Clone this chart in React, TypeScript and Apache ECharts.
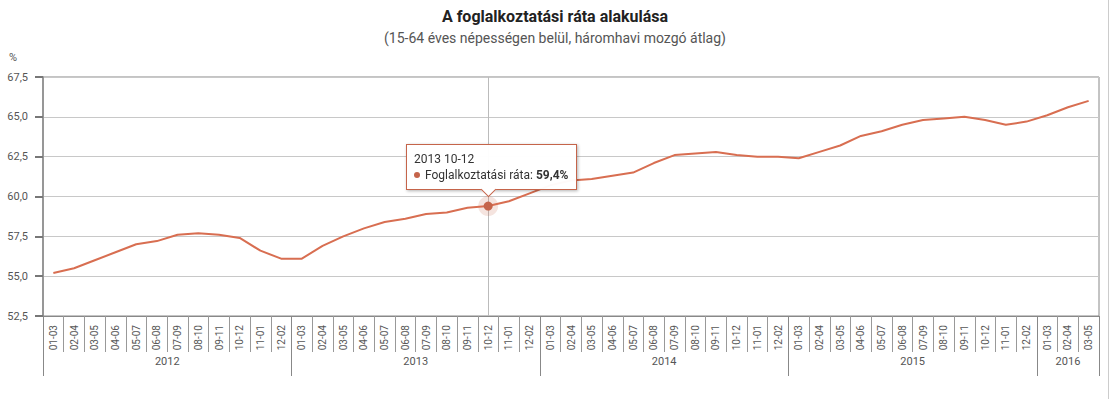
import React, { useEffect, useRef } from "react";
import * as echarts from "echarts";

const years = ["2012", "2013", "2014", "2015", "2016"];
const monthsPerYear = [12, 12, 12, 12, 3];
const monthLabels = ["01-03", "02-04", "03-05", "04-06", "05-07", "06-08", "07-09", "08-10", "09-11", "10-12", "11-01", "12-02"];
const rateValues = [
  55.2, 55.5, 56.0, 56.5, 57.0, 57.2, 57.6, 57.7, 57.6, 57.4, 56.6, 56.1,
  56.1, 56.9, 57.5, 58.0, 58.4, 58.6, 58.9, 59.0, 59.3, 59.4, 59.7, 60.2,
  60.7, 61.0, 61.1, 61.3, 61.5, 62.1, 62.6, 62.7, 62.8, 62.6, 62.5, 62.5,
  62.4, 62.8, 63.2, 63.8, 64.1, 64.5, 64.8, 64.9, 65.0, 64.8, 64.5, 64.7,
  65.1, 65.6, 66.0,
];
const seriesName = "Foglalkoztatási ráta";
const highlightIndex = 21;
const yMin = 52.5;
const yMax = 67.5;
const yStep = 2.5;

const LINE_COLOR = "#c5644a";

export default function App() {
  const ref = useRef<HTMLDivElement>(null);
  useEffect(() => {
    if (!ref.current) return;
    const chart = echarts.init(ref.current, undefined, { renderer: "svg" });

    const categories: string[] = [];
    const yearOfIndex: string[] = [];
    years.forEach((y, yi) => {
      for (let m = 0; m < monthsPerYear[yi]; m++) {
        categories.push(monthLabels[m]);
        yearOfIndex.push(y);
      }
    });
    const n = categories.length;
    const yearAxisData: string[] = new Array(2 * n + 1).fill("");
    const boundaries = new Set<number>();
    let start = 0;
    years.forEach((y, yi) => {
      const cnt = monthsPerYear[yi];
      boundaries.add(2 * start);
      yearAxisData[2 * start + cnt] = y;
      start += cnt;
    });
    boundaries.add(2 * n);

    const font = "Roboto, 'Noto Sans', sans-serif";

    chart.setOption({
      animation: false,
      textStyle: { fontFamily: font },
      title: {
        text: "A foglalkoztatási ráta alakulása",
        subtext: "(15-64 éves népességen belül, háromhavi mozgó átlag)",
        left: "center",
        top: 3,
        itemGap: 7,
        textStyle: { fontSize: 16, fontWeight: "bold", color: "#222", fontFamily: font },
        subtextStyle: { fontSize: 14, color: "#555", fontFamily: font },
      },
      grid: {
        left: 43,
        right: 11,
        top: 77,
        bottom: 83,
        show: true,
        borderColor: "#888",
        borderWidth: 1,
      },
      tooltip: {
        trigger: "axis",
        alwaysShowContent: true,
        transitionDuration: 0,
        showDelay: 0,
        backgroundColor: "rgba(255,255,255,0.97)",
        borderColor: LINE_COLOR,
        borderWidth: 1,
        padding: [6, 8, 6, 7],
        extraCssText: "border-radius:0;box-shadow:1px 1px 3px rgba(0,0,0,0.3);overflow:visible;",
        textStyle: { fontSize: 12, color: "#333", fontFamily: font, lineHeight: 16 },
        axisPointer: {
          type: "line",
          z: 1,
          lineStyle: { color: "#bbb", width: 1, type: "solid" },
          label: { show: false },
        },
        position: (point: number[], _p: any, _d: any, _r: any, size: any) => [
          point[0] - size.contentSize[0] / 2 + 3,
          point[1] - size.contentSize[1] - 16,
        ],
        formatter: (params: any) => {
          const list = Array.isArray(params) ? params : [params];
          const p = list.find((q: any) => q.seriesIndex === 0) || list[0];
          const idx = p.dataIndex;
          const v = Number(rateValues[idx]).toFixed(1).replace(".", ",");
          return (
            `<div style="position:relative;line-height:16px">` +
            `<div>${yearOfIndex[idx]} ${categories[idx]}</div>` +
            `<div><span style="display:inline-block;width:6px;height:6px;border-radius:50%;background:${LINE_COLOR};margin-right:5px;vertical-align:middle;position:relative;top:-1px"></span>` +
            `${seriesName}: <b>${v}%</b></div>` +
            `</div>` +
            `<div style="position:absolute;left:50%;bottom:-6px;margin-left:-9px;width:10px;height:10px;background:#fff;border-right:1px solid ${LINE_COLOR};border-bottom:1px solid ${LINE_COLOR};transform:rotate(45deg)"></div>`
          );
        },
      },
      graphic: [
        {
          type: "text",
          left: 9,
          top: 52,
          style: { text: "%", fontSize: 11, fill: "#555", fontFamily: font },
        },
        {
          type: "line",
          shape: { x1: 1108.5, y1: 0, x2: 1108.5, y2: 399 },
          style: { stroke: "#ccc", lineWidth: 1 },
        },
      ],
      xAxis: [
        {
          type: "category",
          data: categories,
          boundaryGap: true,
          axisLine: { show: true, lineStyle: { color: "#888", width: 1 } },
          axisTick: { show: true, interval: 0, length: 36, lineStyle: { color: "#999" } },
          axisLabel: { interval: 0, rotate: 90, fontSize: 10, color: "#555", margin: 9, fontFamily: font },
          splitLine: { show: false },
        },
        {
          type: "category",
          data: yearAxisData,
          position: "bottom",
          boundaryGap: false,
          axisLine: { show: false },
          axisTick: {
            show: true,
            length: 60,
            interval: (i: number) => boundaries.has(i),
            lineStyle: { color: "#888" },
          },
          axisLabel: { interval: 0, fontSize: 11, color: "#555", margin: 40, fontFamily: font },
          splitLine: { show: false },
          axisPointer: { show: false },
        },
      ],
      yAxis: {
        type: "value",
        min: yMin,
        max: yMax,
        interval: yStep,
        axisLine: { show: true, lineStyle: { color: "#888", width: 1.5 } },
        axisTick: { show: true, length: 8, lineStyle: { color: "#777", width: 2 } },
        axisLabel: {
          fontSize: 11,
          color: "#555",
          margin: 15,
          fontFamily: font,
          formatter: (v: number) => v.toFixed(1).replace(".", ","),
        },
        splitLine: { show: true, lineStyle: { color: "#c8c8c8", width: 1 } },
      },
      series: [
        {
          name: seriesName,
          type: "line",
          data: rateValues,
          xAxisIndex: 0,
          showSymbol: false,
          symbol: "circle",
          symbolSize: 9,
          z: 3,
          lineStyle: { color: LINE_COLOR, width: 2 },
          itemStyle: { color: LINE_COLOR },
          emphasis: {
            scale: 1,
            itemStyle: { color: LINE_COLOR, borderWidth: 0 },
          },
        },
        {
          name: "halo",
          type: "scatter",
          xAxisIndex: 0,
          data: [[highlightIndex, rateValues[highlightIndex]]],
          symbol: "circle",
          symbolSize: 20,
          z: 2,
          silent: true,
          tooltip: { show: false },
          itemStyle: { color: "rgba(197,100,74,0.22)" },
          emphasis: { disabled: true },
        },
      ],
    });

    chart.dispatchAction({ type: "showTip", seriesIndex: 0, dataIndex: highlightIndex });

    return () => chart.dispose();
  }, []);

  return (
    <div
      ref={ref}
      style={{ position: "absolute", left: 0, top: 0, width: 1110, height: 399 }}
    />
  );
}
